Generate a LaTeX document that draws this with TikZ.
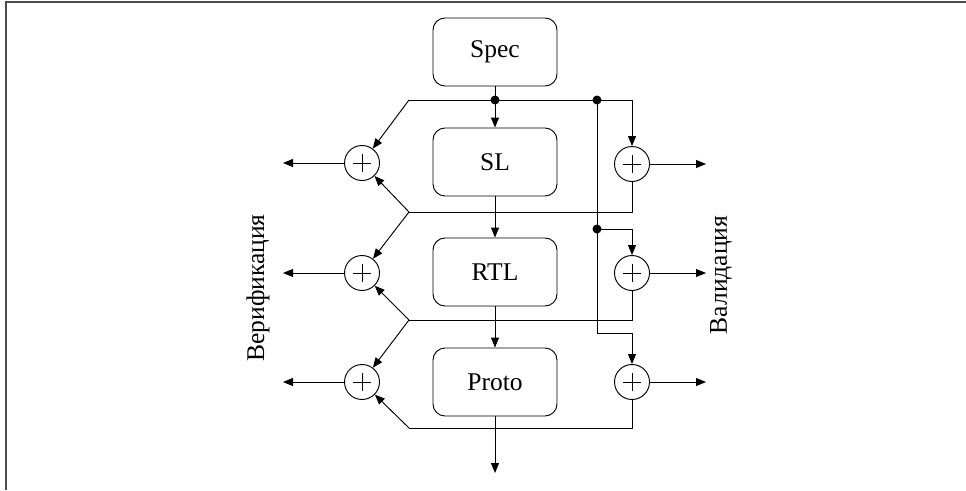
\documentclass[tikz,border=0pt]{standalone}
\usepackage{fontspec}
\setmainfont{Liberation Serif}
\usetikzlibrary{arrows.meta}
\begin{document}
\begin{tikzpicture}[x=1pt,y=-1pt,
  line width=0.95pt,
  tip/.style={-{Triangle[length=10pt,width=8pt]}},
  blockbox/.style={draw,rounded corners=12pt,minimum width=124pt,minimum height=68pt,font=\fontsize{25.5}{30}\selectfont,inner sep=0pt},
  sumnode/.style={draw,circle,minimum size=35pt,inner sep=0pt,
    path picture={\draw[line width=0.95pt] ([xshift=-9pt]path picture bounding box.center) -- ([xshift=9pt]path picture bounding box.center)
      ([yshift=-9pt]path picture bounding box.center) -- ([yshift=9pt]path picture bounding box.center);}},
  dotnode/.style={circle,fill,inner sep=0pt,minimum size=9pt},
  lbl/.style={font=\fontsize{25.5}{30}\selectfont,rotate=90,inner sep=0pt}
]
\useasboundingbox (0,0) rectangle (966,490);
\draw[line width=2pt,black!70] (6,490) -- (6,2) -- (966,2);

\node[blockbox] (spec) at (495,52) {Spec};
\node[blockbox] (sl) at (495,162) {SL};
\node[blockbox] (rtl) at (495,272) {RTL};
\node[blockbox] (proto) at (495,382) {Proto};

\node[sumnode] (L1) at (362,163) {};
\node[sumnode] (L2) at (362,273) {};
\node[sumnode] (L3) at (362,382) {};
\node[sumnode] (R1) at (632,164) {};
\node[sumnode] (R2) at (632,273) {};
\node[sumnode] (R3) at (632,382) {};

\coordinate (jL1) at (409,100);
\coordinate (jL2) at (409,212);
\coordinate (jL3) at (409,320);
\coordinate (jL4) at (409,428);
\node[dotnode] (d0) at (495,100) {};
\node[dotnode] (dv) at (597,100) {};
\node[dotnode] (dv2) at (597,229) {};
\coordinate (cv) at (597,333);

\coordinate (oL1) at (283,163);
\coordinate (oL2) at (283,273);
\coordinate (oL3) at (283,382);
\coordinate (oR1) at (706,164);
\coordinate (oR2) at (706,273);
\coordinate (oR3) at (706,382);
\coordinate (oP) at (495,473);

% main chain
\draw[tip] (spec) -- (sl);
\draw[tip] (sl) -- (rtl);
\draw[tip] (rtl) -- (proto);
\draw[tip] (proto) -- (oP);

% top bus
\draw[tip] (jL1) -| (R1);
\draw[tip] (jL1) -- (L1);
% validation branch line
\draw (dv.center) -- (cv) ;
\draw[tip] (cv) -| (R3);
\draw[tip] (dv2.center) -| (R2);

% feedback lines
\draw (R1) |- (jL2);
\draw[tip] (jL2) -- (L1);
\draw[tip] (jL2) -- (L2);
\draw (R2) |- (jL3);
\draw[tip] (jL3) -- (L2);
\draw[tip] (jL3) -- (L3);
\draw (R3) |- (jL4);
\draw[tip] (jL4) -- (L3);

% outputs
\draw[tip] (L1) -- (oL1);
\draw[tip] (L2) -- (oL2);
\draw[tip] (L3) -- (oL3);
\draw[tip] (R1) -- (oR1);
\draw[tip] (R2) -- (oR2);
\draw[tip] (R3) -- (oR3);

\node[lbl] (ver) at (258,288) {Верификация};
\node[lbl] (val) at (721,275) {Валидация};
\end{tikzpicture}
\end{document}
